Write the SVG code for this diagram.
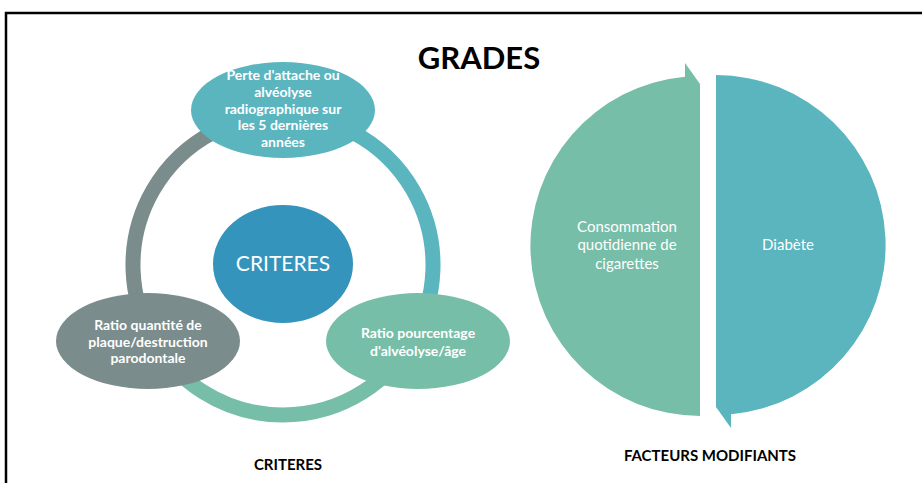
<svg xmlns="http://www.w3.org/2000/svg" width="922" height="483" viewBox="0 0 922 483">
<style>
.t{font-family:Lato,"Open Sans","Liberation Sans",sans-serif;text-anchor:middle;}
.nb{font-size:14px;font-weight:bold;fill:#fff;}
.nr{font-size:15px;fill:#fff;}
.lbl{font-size:15px;font-weight:bold;fill:#000;}
.arc{fill:none;stroke-width:15;}
</style>
<rect width="922" height="483" fill="#fff"/>
<path d="M6 483 V13 H922" fill="none" stroke="#000" stroke-width="2.5"/>
<text class="t" x="479" y="69" style="font-size:31px;font-weight:bold;fill:#000">GRADES</text>
<g id="connectors">
<path class="arc" stroke="#5AB5BF" d="M283 115 A150 150 0 0 1 412.9 340"/>
<path class="arc" stroke="#77BEA8" d="M412.9 340 A150 150 0 0 1 153.1 340"/>
<path class="arc" stroke="#7A8C8B" d="M153.1 340 A150 150 0 0 1 283 115"/>
</g>
<g id="node-center">
<ellipse cx="283" cy="264" rx="70" ry="59" fill="#3594BB"/>
<text class="t" x="283" y="271" style="font-size:21px;fill:#fff">CRITERES</text>
</g>
<g id="node-top">
<ellipse cx="283" cy="110" rx="92" ry="48" fill="#5AB5BF"/>
<text class="t nb"><tspan x="283" y="80">Perte d'attache ou</tspan><tspan x="283" y="97">alvéolyse</tspan><tspan x="283" y="114">radiographique sur</tspan><tspan x="283" y="130">les 5 dernières</tspan><tspan x="283" y="147">années</tspan></text>
</g>
<g id="node-left">
<ellipse cx="148" cy="341" rx="92" ry="48" fill="#7A8C8B"/>
<text class="t nb"><tspan x="148" y="330">Ratio quantité de</tspan><tspan x="148" y="347">plaque/destruction</tspan><tspan x="148" y="363">parodontale</tspan></text>
</g>
<g id="node-right">
<ellipse cx="418" cy="341" rx="92" ry="48" fill="#77BEA8"/>
<text class="t nb"><tspan x="418" y="338">Ratio pourcentage</tspan><tspan x="418" y="356">d'alvéolyse/âge</tspan></text>
</g>
<text class="t lbl" x="288" y="470">CRITERES</text>
<g id="node-cigarettes">
<path d="M700 416 A170 170 0 0 1 685 76.7 L685 63 L700 84 Z" fill="#77BEA8"/>
<text class="t nr"><tspan x="627" y="232">Consommation</tspan><tspan x="627" y="250">quotidienne de</tspan><tspan x="627" y="269">cigarettes</tspan></text>
</g>
<g id="node-diabete">
<path d="M716 75 A170 170 0 0 1 731 414.3 L731 428 L716 407 Z" fill="#5AB5BF"/>
<text class="t nr" x="788" y="250">Diabète</text>
</g>
<text class="t lbl" x="710" y="461">FACTEURS MODIFIANTS</text>
</svg>
